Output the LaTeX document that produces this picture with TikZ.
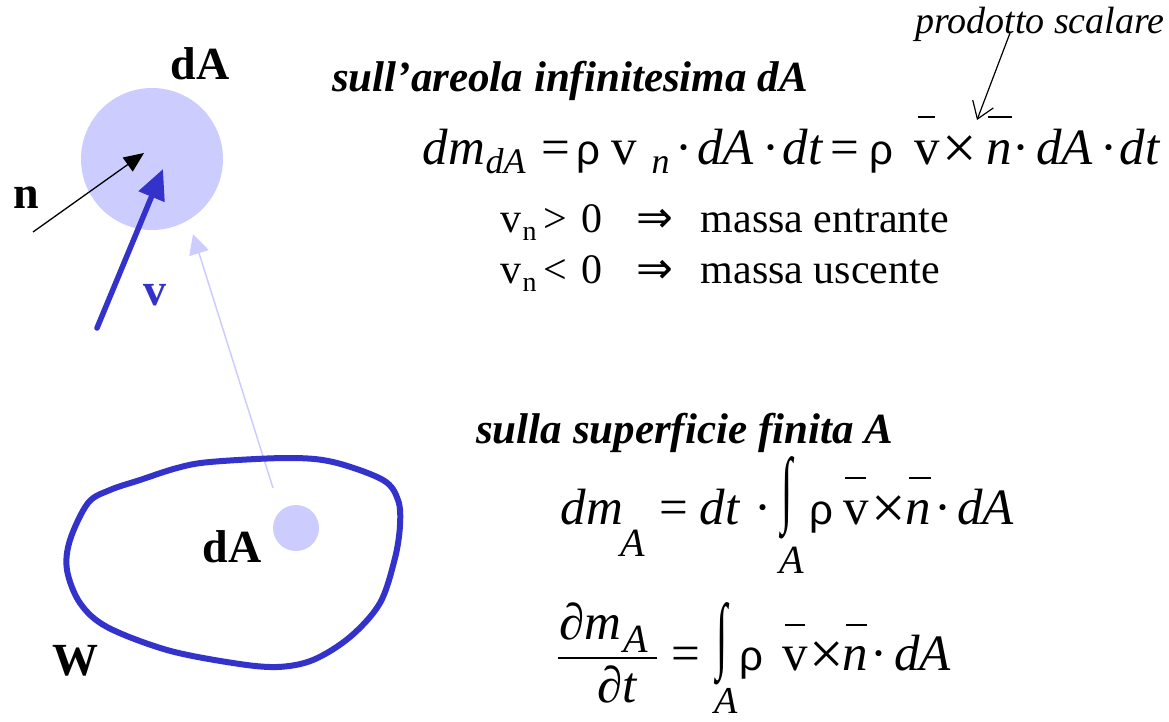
\documentclass[tikz,border=0pt]{standalone}
\usepackage{fontspec}
\usepackage{graphicx}
\setmainfont{Liberation Serif}
\newfontfamily\sansf{Liberation Sans}
\newfontfamily\djv{DejaVu Sans}
\usetikzlibrary{arrows.meta}
\definecolor{vblue}{HTML}{3333CC}
\definecolor{lblue}{HTML}{CCCCFF}
\newcommand\tk[2]{\makebox[0pt][l]{\hspace*{#1pt}\makebox[0pt][c]{#2}}}
\newcommand\tkl[2]{\makebox[0pt][l]{\hspace*{#1pt}#2}}
\newcommand\rh{\sansf\fontsize{42}{44}\selectfont ρ}
\newcommand\tm{\raisebox{-4pt}{\scalebox{1.2}{×}}}
\newcommand\igl{\raisebox{8pt}{\scalebox{0.85}[1.75]{∫}}}
\newcommand\eqf{\fontsize{51}{56}\selectfont}
\newcommand\sbf{\fontsize{36}{40}\selectfont\itshape}
\newcommand\lnf{\fontsize{42}{46}\selectfont}
\begin{document}
\begin{tikzpicture}[x=1pt,y=-1pt,
  lbl/.style={inner sep=0, font=\fontsize{46}{50}\selectfont\bfseries},
  ttl/.style={inner sep=0, anchor=base west, font=\fontsize{43}{46}\selectfont\bfseries\itshape},
  eqline/.style={inner sep=0, anchor=base west},
  intg/.style={inner sep=0, anchor=base, font=\fontsize{48}{50}\selectfont},
  barline/.style={line width=2.2pt},
  spot/.style={circle, fill=lblue, inner sep=0}]
\useasboundingbox (0,0) rectangle (1169,722);

% ---------- left diagram ----------
\coordinate (lfrom) at (273,488);
\coordinate (lto) at (193,234);
\draw[lblue, line width=1.5pt, -{Triangle[length=20pt,width=20pt]}] (lfrom) -- (lto);

\node[spot, minimum size=142pt] (dA1) at (152,159) {};
\node[lbl, anchor=base] (ldA1) at (200,80) {dA};

\coordinate (nfrom) at (33,232);
\coordinate (nto) at (144,153);
\draw[line width=1.3pt, -{Triangle[length=20pt,width=17pt]}] (nfrom) -- (nto);
\node[lbl, anchor=base west] (ln) at (13,208) {n};

\coordinate (vfrom) at (97,328);
\coordinate (vto) at (163,169);
\draw[vblue, line width=5.5pt, line cap=round, -{Triangle[length=30pt,width=27pt]}] (vfrom) -- (vto);
\node[lbl, anchor=base, text=vblue] (lv) at (155,305) {v};

\draw[vblue, line width=6pt] plot[smooth cycle, tension=0.55] coordinates {
 (210,462) (287,458) (333,462) (383,480) (398,500) (400,525) (395,558)
 (380,603) (350,637) (313,660) (277,667) (233,663) (167,650) (107,627)
 (80,603) (67,570) (70,540) (88,503) (110,490) (140,480) (177,468)};
\node[spot, minimum size=46pt] (dA2) at (296,528) {};
\node[lbl, anchor=base] (ldA2) at (232,562) {dA};
\node[lbl, anchor=base] (lW) at (75,675) {W};

% ---------- top right ----------
\node[ttl] (t1) at (332,92) {sull’areola infinitesima dA};
\node[inner sep=0, anchor=base west, font=\fontsize{38}{40}\selectfont\itshape] (ps) at (915,34) {prodotto scalare};
\coordinate (psfrom) at (1010,33);
\coordinate (psto) at (977,120);
\draw[line width=1.2pt, -{Straight Barb[length=16pt,width=22pt]}] (psfrom) -- (psto);

\node[eqline] (eq1) at (0,165) {\eqf%
\tk{453}{\itshape dm}%
\tk{505}{\raisebox{-9pt}{\sbf dA}}%
\tk{555}{=}%
\tk{588}{\rh}%
\tk{624}{v}%
\tk{660}{\raisebox{-9pt}{\sbf n}}%
\tk{683}{·}%
\tk{725}{\itshape dA}%
\tk{770}{·}%
\tk{802}{\itshape dt}%
\tk{844}{=}%
\tk{881}{\rh}%
\tk{927}{v}%
\tk{959}{\tm}%
\tk{999}{\itshape n}%
\tk{1020}{·}%
\tk{1064}{\itshape dA}%
\tk{1108}{·}%
\tk{1139}{\itshape dt}};
\draw[barline] (918,117) -- (935,117);
\draw[barline] (988,117) -- (1012,117);

\node[eqline] (l2) at (0,232) {\lnf%
\tk{510}{v}%
\tk{529}{\raisebox{-8pt}{\fontsize{28}{30}\selectfont n}}%
\tk{555}{>}%
\tk{591}{0}%
\tk{654}{\djv\fontsize{44}{46}\selectfont ⇒}%
\tkl{700}{massa entrante}};
\node[eqline] (l3) at (0,283) {\lnf%
\tk{510}{v}%
\tk{529}{\raisebox{-8pt}{\fontsize{28}{30}\selectfont n}}%
\tk{555}{<}%
\tk{591}{0}%
\tk{654}{\djv\fontsize{44}{46}\selectfont ⇒}%
\tkl{700}{massa uscente}};

% ---------- bottom right ----------
\node[ttl] (t2) at (476,443) {sulla superficie finita A};

\node[eqline] (eq2) at (0,524) {\eqf%
\tk{591}{\itshape dm}%
\tk{632}{\raisebox{-32pt}{\fontsize{40}{42}\selectfont\itshape A}}%
\tk{673}{=}%
\tk{719}{\itshape dt}%
\tk{762}{·}%
\tk{821}{\rh}%
\tk{856}{v}%
\tk{888}{\tm}%
\tk{918}{\itshape n}%
\tk{942}{·}%
\tk{985}{\itshape dA}};
\node[intg] (int2) at (787,524) {\igl};
\node[inner sep=0, anchor=base, font=\fontsize{40}{42}\selectfont\itshape] (int2A) at (792,573) {A};
\draw[barline] (845,478) -- (866,478);
\draw[barline] (909,478) -- (931,478);

\node[eqline] (eq3n) at (0,639) {\eqf%
\tk{590}{\itshape ∂m}%
\tk{635}{\raisebox{-13pt}{\fontsize{40}{42}\selectfont\itshape A}}};
\draw[line width=2pt] (558,658) -- (657,658);
\node[eqline] (eq3d) at (0,702) {\eqf\tk{616}{\itshape ∂t}};
\node[eqline] (eq3r) at (0,670) {\eqf%
\tk{685}{=}%
\tk{751}{\rh}%
\tk{795}{v}%
\tk{826}{\tm}%
\tk{855}{\itshape n}%
\tk{878}{·}%
\tk{922}{\itshape dA}};
\node[intg] (int3) at (722,670) {\igl};
\node[inner sep=0, anchor=base, font=\fontsize{38}{40}\selectfont\itshape] (int3A) at (726,713) {A};
\draw[barline] (785,625) -- (805,625);
\draw[barline] (846,625) -- (867,625);
\end{tikzpicture}
\end{document}
